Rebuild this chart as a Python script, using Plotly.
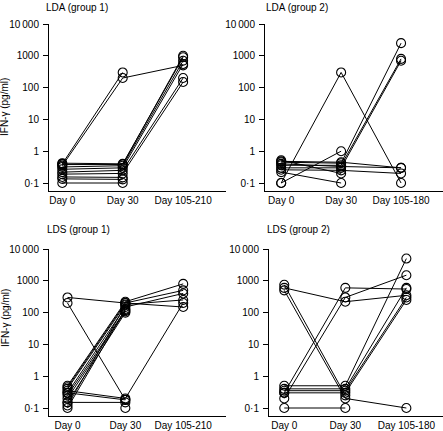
import plotly.graph_objects as go

W, H = 443, 431

# ---- data ----
days_g1 = ["Day 0", "Day 30", "Day 105-210"]
days_g2 = ["Day 0", "Day 30", "Day 105-180"]
y_tickvals = [0.1, 1, 10, 100, 1000, 10000]
y_ticktext = ["0·1", "1", "10", "100", "1000", "10\u2009000"]

lda_g1 = [
    [0.4, 300, None],
    [0.35, 200, 500],
    [0.42, 0.4, 900],
    [0.32, 0.35, 700],
    [0.27, 0.3, 550],
    [0.22, 0.25, 200],
    [0.19, 0.2, 150],
    [0.155, 0.15, None],
    [0.135, 0.13, None],
    [0.1, 0.1, None],
    [0.38, 0.38, 1000],
]
lda_g2 = [
    [0.1, 300, 0.1],
    [0.1, 1, None],
    [0.22, 0.1, None],
    [0.48, 0.45, 0.3],
    [0.45, 0.42, 2500],
    [0.36, 0.36, 800],
    [0.3, 0.3, 700],
    [0.26, 0.25, 0.2],
    [0.4, 0.33, 0.3],
    [0.52, 0.2, None],
]
lds_g1 = [
    [300, 200, 150],
    [200, 0.18, None],
    [0.35, 0.2, 200],
    [0.3, 0.18, None],
    [0.15, 0.15, None],
    [None, 0.1, None],
    [0.5, 220, 800],
    [0.45, 200, 500],
    [0.4, 180, 250],
    [0.3, 150, 400],
    [0.25, 120, None],
    [0.2, 110, None],
    [0.15, 100, None],
    [0.1, 130, None],
    [0.12, 170, None],
]
lds_g2 = [
    [600, 220, 350],
    [750, 0.25, None],
    [500, 0.2, 0.1],
    [0.3, 600, 550],
    [0.2, 300, 1500],
    [0.5, 0.5, 5000],
    [0.4, 0.4, 600],
    [0.35, 0.35, 300],
    [0.3, 0.3, 250],
    [0.1, 0.1, None],
]

panels = [
    # data, categories, title, x-pixels (axis start, end), x range, y pixels (top, bottom), title pos
    (lda_g1, days_g1, "LDA (group 1)", (49, 226), (-0.22, 2.71), (24, 191), 44, 7),
    (lda_g2, days_g2, "LDA (group 2)", (265, 443), (-0.27, 2.7), (24, 191), 264, 7),
    (lds_g1, days_g1, "LDS (group 1)", (49, 226), (-0.32, 2.74), (249, 416), 45, 230),
    (lds_g2, days_g2, "LDS (group 2)", (269, 443), (-0.25, 2.6), (249, 416), 265, 230),
]

FONT = "Liberation Sans, Arial, sans-serif"
fig = go.Figure()
layout = dict(
    template="none",
    width=W, height=H, margin=dict(l=0, r=0, t=0, b=0, pad=0),
    paper_bgcolor="white", plot_bgcolor="white", showlegend=False,
    font=dict(family=FONT, size=10, color="black"),
)
annotations = []
for i, (data, cats, title, xpx, xr, ypx, tx, ty) in enumerate(panels, start=1):
    xa = "x" if i == 1 else f"x{i}"
    ya = "y" if i == 1 else f"y{i}"
    for subj in data:
        fig.add_trace(go.Scatter(
            x=[0, 1, 2], y=subj, xaxis=xa, yaxis=ya, mode="lines+markers",
            line=dict(color="black", width=1),
            marker=dict(symbol="circle-open", size=9, color="black",
                        line=dict(width=1.1, color="black")),
            connectgaps=False, cliponaxis=False, hoverinfo="skip",
        ))
    # 0.1 sits 8 px above the x axis line
    decade_px = (ypx[1] - ypx[0] - 8) / 5.0
    ylo = -1 - 8 / decade_px
    layout["xaxis" if i == 1 else f"xaxis{i}"] = dict(
        domain=[xpx[0] / W, xpx[1] / W], range=list(xr), anchor=ya,
        tickvals=[0, 1, 2], ticktext=cats, showline=True, linecolor="black",
        linewidth=1, ticks="", showgrid=False, zeroline=False, fixedrange=True,
        tickfont=dict(size=10), ticklabelstandoff=0, automargin=False,
    )
    layout["yaxis" if i == 1 else f"yaxis{i}"] = dict(
        domain=[(H - ypx[1]) / H, (H - ypx[0]) / H], type="log", range=[ylo, 4],
        anchor=xa, tickvals=y_tickvals, ticktext=y_ticktext, showline=True,
        linecolor="black", linewidth=1, ticks="outside", ticklen=5,
        tickcolor="black", showgrid=False, zeroline=False, fixedrange=True,
        tickfont=dict(size=10), ticklabelstandoff=2, automargin=False,
    )
    annotations.append(dict(
        text=title, x=tx / W, y=1 - ty / H, xref="paper", yref="paper",
        xanchor="left", yanchor="middle", showarrow=False, font=dict(size=10),
    ))

for cy in (107, 318):
    annotations.append(dict(
        text="IFN-γ (pg/ml)", x=5 / W, y=1 - cy / H, xref="paper", yref="paper",
        xanchor="center", yanchor="middle", textangle=-90, showarrow=False,
        font=dict(size=10),
    ))

layout["annotations"] = annotations
fig.update_layout(**layout)
fig.write_html(
    "out.html",
    config={"displayModeBar": False, "responsive": False},
    post_script="document.body.style.margin='0';document.body.style.overflow='hidden';",
)
